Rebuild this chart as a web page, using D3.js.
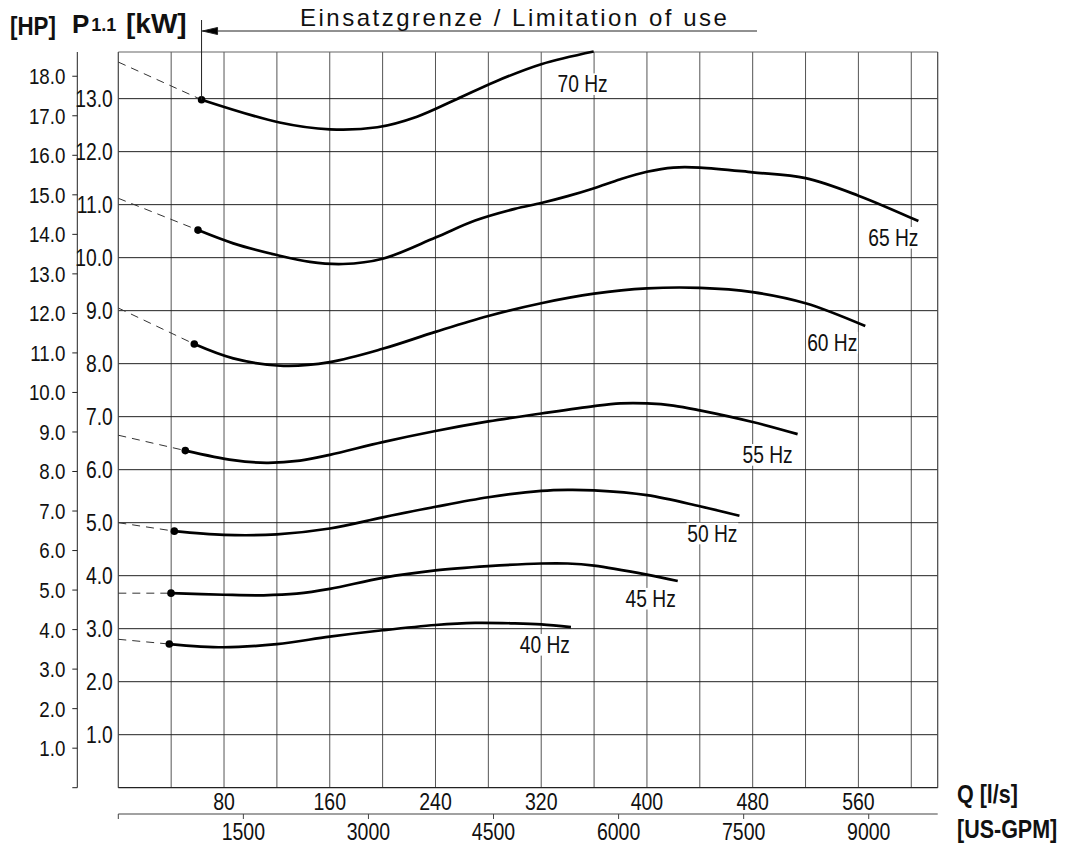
<!DOCTYPE html>
<html>
<head>
<meta charset="utf-8">
<script src="https://cdn.jsdelivr.net/npm/d3@7/dist/d3.min.js"></script>
<style>
    body { margin: 0; background: #fff; }
    text { font-family: "Liberation Sans", Arial, sans-serif; fill: #111; }
    text.bold { font-weight: bold; }
</style>
</head>
<body>
<div id="chart"></div>
<script>

// tick values
var flowGrid = [40, 80, 120, 160, 200, 240, 280, 320, 360, 400, 440, 480, 520, 560, 600];
var flowLabels = [80, 160, 240, 320, 400, 480, 560];
var gpmLabels = [1500, 3000, 4500, 6000, 7500, 9000];
var kwLabels = [1.0, 2.0, 3.0, 4.0, 5.0, 6.0, 7.0, 8.0, 9.0, 10.0, 11.0, 12.0, 13.0];
var hpLabels = [0, 1, 2, 3, 4, 5, 6, 7, 8, 9, 10, 11, 12, 13, 14, 15, 16, 17, 18];

// curves, [Q l/s, P1.1 kW]
var freqNames = ["40 Hz", "45 Hz", "50 Hz", "55 Hz", "60 Hz", "65 Hz", "70 Hz"];
var powerAtZero = [2.80, 3.67, 5.00, 6.65, 9.05, 11.12, 13.69];
var curve40 = [[38.6, 2.71], [79.5, 2.65], [120, 2.71], [160, 2.85], [200, 2.97], [240, 3.07], [270, 3.11], [300, 3.10], [320, 3.08], [342.5, 3.03]];
var curve45 = [[39.9, 3.67], [80, 3.64], [110, 3.63], [135, 3.66], [160, 3.75], [200, 3.96], [240, 4.10], [280, 4.18], [320, 4.23], [340, 4.23], [360, 4.19], [400, 4.02], [423.3, 3.90]];
var curve50 = [[42.4, 4.84], [80, 4.77], [120, 4.78], [160, 4.89], [200, 5.10], [240, 5.30], [280, 5.48], [320, 5.60], [340, 5.62], [360, 5.61], [400, 5.52], [440, 5.31], [470, 5.13]];
var curve55 = [[50.7, 6.36], [87, 6.18], [112, 6.13], [137.5, 6.17], [160, 6.28], [200, 6.52], [240, 6.73], [280, 6.91], [320, 7.06], [360, 7.20], [380, 7.25], [400, 7.25], [420, 7.21], [440, 7.12], [480, 6.90], [514, 6.67]];
var curve60 = [[57.5, 8.37], [87, 8.10], [125, 7.96], [160, 8.03], [200, 8.28], [240, 8.60], [280, 8.90], [320, 9.14], [360, 9.32], [400, 9.42], [440, 9.43], [480, 9.35], [520, 9.14], [565.2, 8.71]];
var curve65 = [[60.3, 10.52], [87, 10.27], [120, 10.05], [145, 9.92], [170, 9.88], [200, 9.98], [240, 10.38], [270, 10.70], [300, 10.92], [320, 11.03], [340, 11.16], [360, 11.31], [380, 11.48], [400, 11.62], [420, 11.70], [440, 11.70], [480, 11.61], [520, 11.50], [560, 11.17], [605.4, 10.69]];
var curve70 = [[63, 12.98], [122, 12.55], [160, 12.42], [196, 12.46], [226, 12.66], [256, 12.99], [286, 13.33], [320, 13.65], [359.7, 13.89]];

var KW_PER_HP = 0.7457;
var GPM_PER_LS = 15.8503;

/** Power curve chart P1.1 over Q */
class PowerChart {
    constructor() {
        this.width = 1072;
        this.height = 855;

        this.left = 118.3;
        this.right = 937.7;
        this.top = 52;
        this.bottom = 787.7;

        this.qMax = 620;
        this.pMax = 13.88;

        this.x = d3.scaleLinear().domain([0, this.qMax]).range([this.left, this.right]);
        this.y = d3.scaleLinear().domain([0, this.pMax]).range([this.bottom, this.top]);
        this.yHp = d3.scaleLinear().domain([0, this.pMax / KW_PER_HP]).range([this.bottom, this.top]);
        this.xGpm = d3.scaleLinear().domain([0, this.qMax * GPM_PER_LS]).range([this.left, this.right]);

        this.svg = d3.select("#chart")
            .append("svg")
            .attr("width", this.width)
            .attr("height", this.height);
    }

    // narrow text: no condensed face installed, so squeeze the normal one
    squeeze(x, y, sx) {
        return "translate(" + x + "," + y + ") scale(" + sx + ",1)";
    }

    drawGrid() {
        var x = this.x, y = this.y;

        // vertical lines
        this.svg.append("g").selectAll("line")
            .data(flowGrid)
            .enter().append("line")
            .attr("x1", d => x(d)).attr("x2", d => x(d))
            .attr("y1", this.top).attr("y2", this.bottom)
            .style("stroke", "#555")
            .style("stroke-width", 1);

        // horizontal lines
        this.svg.append("g").selectAll("line")
            .data(kwLabels)
            .enter().append("line")
            .attr("x1", this.left).attr("x2", this.right)
            .attr("y1", d => y(d)).attr("y2", d => y(d))
            .style("stroke", "#222")
            .style("stroke-width", 1);

        // frame
        var frame = this.svg.append("g").style("stroke-width", 1.2);
        frame.append("line").attr("x1", this.left).attr("x2", this.right).attr("y1", this.top).attr("y2", this.top).style("stroke", "#666");
        frame.append("line").attr("x1", this.left).attr("x2", this.left).attr("y1", this.top).attr("y2", this.bottom).style("stroke", "#444");
        frame.append("line").attr("x1", this.right).attr("x2", this.right).attr("y1", this.top).attr("y2", this.bottom).style("stroke", "#444");
        frame.append("line").attr("x1", this.left).attr("x2", this.right).attr("y1", this.bottom).attr("y2", this.bottom).style("stroke", "#222");
    }

    drawAxes() {
        var self = this;
        var x = this.x, y = this.y, yHp = this.yHp, xGpm = this.xGpm;
        var hpX = 77.3;

        // HP axis
        var hp = this.svg.append("g");
        hp.append("line")
            .attr("x1", hpX).attr("x2", hpX)
            .attr("y1", this.top).attr("y2", this.bottom)
            .style("stroke", "#222");
        hp.selectAll(".hptick").data(hpLabels).enter().append("line")
            .attr("x1", hpX - 5).attr("x2", hpX)
            .attr("y1", d => yHp(d)).attr("y2", d => yHp(d))
            .style("stroke", "#222");
        hp.selectAll("text").data(hpLabels.filter(d => d > 0)).enter().append("text")
            .attr("transform", d => self.squeeze(hpX - 12, yHp(d), 0.85))
            .attr("dy", "0.36em")
            .style("text-anchor", "end")
            .style("font-size", "22px")
            .text(d => d.toFixed(1));

        // kW labels
        this.svg.append("g").selectAll("text").data(kwLabels).enter().append("text")
            .attr("transform", d => self.squeeze(this.left - 5.5, y(d), 0.84))
            .attr("dy", "0.36em")
            .style("text-anchor", "end")
            .style("font-size", "23px")
            .text(d => d.toFixed(1));

        // Q l/s labels
        this.svg.append("g").selectAll("text").data(flowLabels).enter().append("text")
            .attr("transform", d => self.squeeze(x(d), 810, 0.83))
            .style("text-anchor", "middle")
            .style("font-size", "23.5px")
            .text(d => d);

        // US-GPM axis
        var gpmY = 814;
        var gpm = this.svg.append("g");
        gpm.append("line")
            .attr("x1", this.left).attr("x2", this.right)
            .attr("y1", gpmY).attr("y2", gpmY)
            .style("stroke", "#444").style("stroke-width", 1.2);
        gpm.selectAll("line.t").data([0].concat(gpmLabels)).enter().append("line")
            .attr("class", "t")
            .attr("x1", d => xGpm(d)).attr("x2", d => xGpm(d))
            .attr("y1", gpmY).attr("y2", gpmY + 5)
            .style("stroke", "#444");
        gpm.selectAll("text").data(gpmLabels).enter().append("text")
            .attr("transform", d => self.squeeze(xGpm(d), 840, 0.83))
            .style("text-anchor", "middle")
            .style("font-size", "23.5px")
            .text(d => d);

        // titles
        this.svg.append("text").attr("class", "bold")
            .attr("transform", this.squeeze(10, 35, 0.86))
            .style("font-size", "26px")
            .text("[HP]");
        var p = this.svg.append("text").attr("class", "bold")
            .attr("x", 72).attr("y", 33)
            .style("font-size", "26px");
        p.append("tspan").text("P");
        p.append("tspan").attr("dx", 2).attr("dy", -2).style("font-size", "18px").text("1.1");
        this.svg.append("text").attr("class", "bold")
            .attr("x", 126).attr("y", 33)
            .style("font-size", "28px")
            .text("[kW]");

        this.svg.append("text").attr("class", "bold")
            .attr("transform", this.squeeze(957, 803, 0.86))
            .style("font-size", "25px")
            .text("Q [l/s]");
        this.svg.append("text").attr("class", "bold")
            .attr("transform", this.squeeze(957, 838, 0.86))
            .style("font-size", "25px")
            .text("[US-GPM]");
    }

    drawCurves() {
        var x = this.x, y = this.y;
        var curves = [curve40, curve45, curve50, curve55, curve60, curve65, curve70];

        var line = d3.line()
            .x(d => x(d[0]))
            .y(d => y(d[1]))
            .curve(d3.curveCatmullRom.alpha(0.5));

        var g = this.svg.append("g");
        for (var i = 0; i < curves.length; i++) {
            var pts = curves[i];

            // dashed part from Q = 0 up to the limit point
            g.append("path")
                .attr("d", d3.line().x(d => x(d[0])).y(d => y(d[1]))([[0, powerAtZero[i]], pts[0]]))
                .style("fill", "none")
                .style("stroke", "#333")
                .style("stroke-width", 1)
                .style("stroke-dasharray", "8,6");

            g.append("path")
                .attr("d", line(pts))
                .style("fill", "none")
                .style("stroke", "#000")
                .style("stroke-width", 2.7);

            g.append("circle")
                .attr("cx", x(pts[0][0]))
                .attr("cy", y(pts[0][1]))
                .attr("r", 3.8)
                .style("fill", "#000");
        }

        // labels at the curve ends, on a white box
        var shift = {
            "40 Hz": [-1, 26], "45 Hz": [-2, 26], "50 Hz": [-2, 26], "55 Hz": [-5, 29],
            "60 Hz": [-8, 25], "65 Hz": [0, 25], "70 Hz": [14, 41]
        };
        for (var j = 0; j < curves.length; j++) {
            var end = curves[j][curves[j].length - 1];
            var s = shift[freqNames[j]];
            var lg = this.svg.append("g")
                .attr("transform", this.squeeze(x(end[0]) + s[0], y(end[1]) + s[1], 0.8));
            var t = lg.append("text")
                .style("text-anchor", "end")
                .style("font-size", "24px")
                .text(freqNames[j]);
            var b = t.node().getBBox();
            lg.insert("rect", "text")
                .attr("x", b.x - 1).attr("y", b.y + 3)
                .attr("width", b.width + 2).attr("height", b.height - 6)
                .style("fill", "#fff");
        }
    }

    drawLimit() {
        var x0 = this.x(curve70[0][0]);
        var yDot = this.y(curve70[0][1]);
        var yLine = 31;
        var xEnd = 757;

        var g = this.svg.append("g").style("stroke", "#222").style("stroke-width", 1);
        g.append("line").attr("x1", x0).attr("x2", x0).attr("y1", 20).attr("y2", yDot);
        g.append("line").attr("x1", x0).attr("x2", xEnd).attr("y1", yLine).attr("y2", yLine);
        g.append("path")
            .attr("d", "M" + (x0 + 1) + "," + yLine + "L" + (x0 + 16) + "," + (yLine - 3.5) + "L" + (x0 + 16) + "," + (yLine + 3.5) + "Z")
            .style("fill", "#000");

        this.svg.append("text")
            .attr("x", 300).attr("y", 26)
            .style("font-size", "24px")
            .style("letter-spacing", "2.5px")
            .text("Einsatzgrenze / Limitation of use");
    }
}

var chart = new PowerChart();
chart.drawGrid();
chart.drawAxes();
chart.drawCurves();
chart.drawLimit();
</script>
</body>
</html>
